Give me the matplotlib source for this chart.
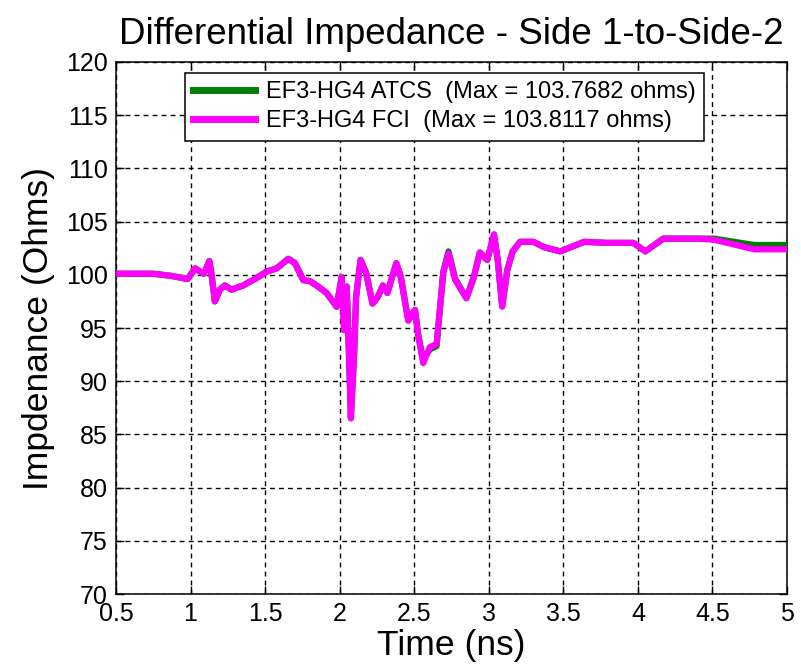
import matplotlib
matplotlib.use("Agg")
import matplotlib.pyplot as plt

plt.rcParams['font.family'] = ['Liberation Sans', 'DejaVu Sans']

# time axis (ns)
t = [0.50, 0.75, 0.87, 0.98, 1.03, 1.09, 1.126, 1.14, 1.163, 1.196, 1.23, 1.275,
     1.353, 1.443, 1.51, 1.577, 1.655, 1.70, 1.756, 1.80, 1.845, 1.912, 1.98,
     2.013, 2.03, 2.047, 2.064, 2.075, 2.097, 2.11, 2.14, 2.177, 2.22, 2.255,
     2.29, 2.32, 2.38, 2.41, 2.46, 2.505, 2.526, 2.56, 2.605, 2.65, 2.695,
     2.73, 2.775, 2.85, 2.90, 2.94, 2.99, 3.035, 3.06, 3.09, 3.125, 3.16,
     3.21, 3.30, 3.37, 3.48, 3.55, 3.64, 3.79, 3.97, 4.05, 4.17, 4.40, 4.51,
     4.60, 4.69, 4.78, 4.90, 5.00]

# EF3-HG4 FCI (magenta)
fci = [100.1, 100.1, 99.9, 99.6, 100.6, 100.1, 101.3, 100.1, 97.5, 98.6, 99.0, 98.6,
       99.0, 99.7, 100.3, 100.6, 101.5, 101.1, 99.5, 99.4, 99.0, 98.3, 97.0,
       99.8, 94.8, 98.9, 91.9, 86.5, 92.6, 97.9, 101.4, 100.2, 97.3, 97.9,
       99.0, 98.3, 101.1, 99.8, 95.7, 96.7, 94.4, 91.7, 93.2, 93.5, 100.2,
       102.0, 99.5, 97.8, 99.8, 102.1, 101.4, 103.8117, 101.4, 97.0, 100.5, 102.2,
       103.1, 103.1, 102.6, 102.2, 102.6, 103.1, 103.0, 103.0, 102.2, 103.4, 103.4, 103.3,
       103.0, 102.7, 102.4, 102.4, 102.4]

# EF3-HG4 ATCS (green)
atcs = [100.1, 100.1, 99.9, 99.6, 100.6, 100.1, 101.3, 100.1, 97.5, 98.6, 99.0, 98.6,
        99.0, 99.7, 100.3, 100.6, 101.5, 101.1, 99.5, 99.4, 99.0, 98.3, 97.0,
        99.8, 94.8, 98.9, 91.9, 86.6, 92.6, 97.9, 101.4, 100.2, 97.3, 97.9,
        99.0, 98.3, 101.1, 99.8, 95.7, 96.7, 94.4, 92.0, 93.0, 93.3, 100.3,
        102.2, 99.6, 97.8, 99.8, 102.1, 101.4, 103.7682, 101.4, 97.1, 100.5, 102.2,
        103.1, 103.1, 102.6, 102.2, 102.6, 103.1, 103.0, 103.0, 102.2, 103.4, 103.4, 103.4,
        103.2, 103.0, 102.8, 102.8, 102.8]

xticks = [0.5, 1, 1.5, 2, 2.5, 3, 3.5, 4, 4.5, 5]
xticklabels = ['0.5', '1', '1.5', '2', '2.5', '3', '3.5', '4', '4.5', '5']
yticks = [70, 75, 80, 85, 90, 95, 100, 105, 110, 115, 120]

fig = plt.figure(figsize=(8.01, 6.70), dpi=100)
ax = fig.add_axes([116 / 801, 1 - 594 / 670, (787 - 116) / 801, (594 - 62) / 670])

ax.plot(t, atcs, color='#008000', lw=4.5, solid_joinstyle='round',
        label='EF3-HG4 ATCS  (Max = 103.7682 ohms)', zorder=3)
ax.plot(t, fci, color='#ff00ff', lw=4.5, solid_joinstyle='round',
        label='EF3-HG4 FCI  (Max = 103.8117 ohms)', zorder=4)

ax.set_xlim(0.5, 5)
ax.set_ylim(70, 120)
ax.set_xticks(xticks)
ax.set_xticklabels(xticklabels)
ax.set_yticks(yticks)
ax.tick_params(direction='in', length=6, width=1, labelsize=18, top=True, right=True,
               colors='black', pad=6)
ax.grid(True, color='black', linestyle=(0, (3.5, 3)), linewidth=1.0)
for s in ax.spines.values():
    s.set_linewidth(1.1)

ax.set_title('Differential Impedance - Side 1-to-Side-2', fontsize=26.5, pad=13)
ax.set_xlabel('Time (ns)', fontsize=25.5, labelpad=2)
ax.set_ylabel('Impdenance (Ohms)', fontsize=25.5, labelpad=8)

leg = ax.legend(loc='upper left', bbox_to_anchor=(69 / 671, 1 - 11 / 532), fontsize=17,
                fancybox=False, framealpha=1, edgecolor='black', handlelength=2.6,
                borderpad=0.35, labelspacing=0.3, handletextpad=0.5, borderaxespad=0)
leg.get_frame().set_linewidth(1.1)
for h in leg.get_lines():
    h.set_linewidth(5)

fig.savefig('out.png', dpi=100)
